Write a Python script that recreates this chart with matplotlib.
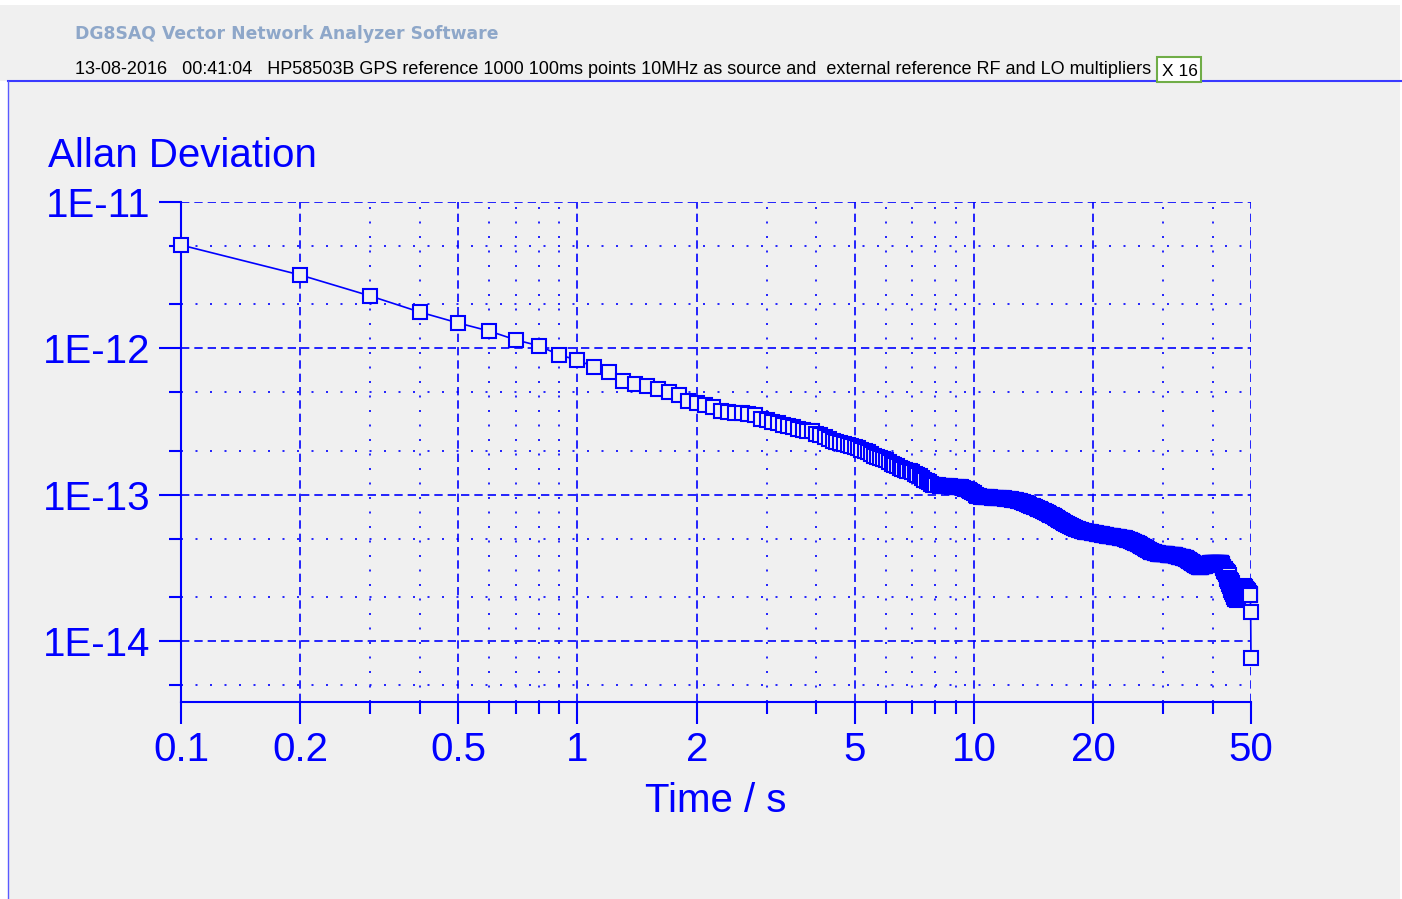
import numpy as np
import matplotlib
matplotlib.use("Agg")
import matplotlib.pyplot as plt
from matplotlib.ticker import FixedLocator, LogLocator, NullFormatter
from matplotlib.patches import Rectangle

plt.rcParams['font.family'] = ['Liberation Sans', 'DejaVu Sans']

W, H = 1402, 899
BLUE = '#0000ff'
PANEL = '#f0f0f0'

# 1000 points at 100 ms -> Allan deviation at tau = 0.1 s ... 50 s
tau = np.arange(1, 501) * 0.1

# Allan deviation, in units of 1e-13 (one row = 1 s of tau)
adev_1e13 = [
    50.8, 31.7, 22.8, 17.7, 14.9, 13.1, 11.4, 10.4, 9.0, 8.32,
    7.45, 6.89, 5.98, 5.70, 5.53, 5.27, 5.03, 4.80, 4.36, 4.23,
    4.10, 3.97, 3.75, 3.67, 3.61, 3.60, 3.56, 3.50, 3.30, 3.24,
    3.15, 3.09, 2.99, 2.93, 2.88, 2.82, 2.78, 2.74, 2.70, 2.60,
    2.54, 2.46, 2.38, 2.33, 2.28, 2.24, 2.21, 2.18, 2.15, 2.12,
    2.08, 2.03, 1.99, 1.94, 1.89, 1.84, 1.81, 1.78, 1.75, 1.72,
    1.68, 1.63, 1.59, 1.56, 1.53, 1.50, 1.48, 1.46, 1.44, 1.42,
    1.39, 1.37, 1.34, 1.30, 1.26, 1.23, 1.21, 1.19, 1.17, 1.16,
    1.16, 1.15, 1.15, 1.15, 1.14, 1.14, 1.14, 1.13, 1.13, 1.13,
    1.13, 1.12, 1.12, 1.11, 1.10, 1.09, 1.07, 1.05, 1.04, 1.02,
    1.00, 0.985, 0.972, 0.963, 0.960, 0.958, 0.957, 0.956, 0.955, 0.955,
    0.954, 0.953, 0.952, 0.950, 0.949, 0.947, 0.946, 0.944, 0.942, 0.940,
    0.937, 0.934, 0.930, 0.926, 0.922, 0.918, 0.914, 0.911, 0.907, 0.904,
    0.897, 0.890, 0.883, 0.876, 0.869, 0.862, 0.856, 0.849, 0.842, 0.836,
    0.829, 0.823, 0.816, 0.810, 0.803, 0.797, 0.791, 0.784, 0.778, 0.772,
    0.765, 0.758, 0.751, 0.744, 0.737, 0.730, 0.723, 0.716, 0.710, 0.703,
    0.696, 0.689, 0.682, 0.675, 0.669, 0.662, 0.655, 0.648, 0.642, 0.635,
    0.630, 0.625, 0.620, 0.615, 0.610, 0.606, 0.601, 0.596, 0.592, 0.587,
    0.584, 0.582, 0.579, 0.576, 0.574, 0.571, 0.568, 0.566, 0.563, 0.560,
    0.559, 0.558, 0.556, 0.555, 0.554, 0.552, 0.551, 0.549, 0.548, 0.546,
    0.545, 0.544, 0.543, 0.541, 0.540, 0.539, 0.538, 0.537, 0.535, 0.534,
    0.533, 0.531, 0.530, 0.529, 0.528, 0.526, 0.525, 0.524, 0.522, 0.521,
    0.520, 0.519, 0.518, 0.517, 0.516, 0.515, 0.514, 0.513, 0.512, 0.511,
    0.510, 0.509, 0.508, 0.507, 0.506, 0.505, 0.504, 0.503, 0.502, 0.501,
    0.499, 0.497, 0.495, 0.493, 0.491, 0.489, 0.488, 0.486, 0.484, 0.482,
    0.480, 0.477, 0.475, 0.473, 0.470, 0.468, 0.466, 0.464, 0.461, 0.459,
    0.456, 0.453, 0.451, 0.448, 0.445, 0.443, 0.440, 0.437, 0.435, 0.432,
    0.430, 0.427, 0.425, 0.422, 0.420, 0.418, 0.415, 0.413, 0.410, 0.408,
    0.407, 0.406, 0.405, 0.403, 0.402, 0.401, 0.400, 0.399, 0.397, 0.396,
    0.396, 0.395, 0.395, 0.394, 0.394, 0.394, 0.393, 0.393, 0.392, 0.392,
    0.392, 0.391, 0.391, 0.391, 0.390, 0.390, 0.390, 0.389, 0.389, 0.389,
    0.389, 0.388, 0.388, 0.388, 0.387, 0.387, 0.387, 0.386, 0.386, 0.386,
    0.385, 0.384, 0.383, 0.382, 0.381, 0.380, 0.379, 0.378, 0.377, 0.375,
    0.375, 0.374, 0.374, 0.373, 0.372, 0.372, 0.371, 0.370, 0.370, 0.369,
    0.367, 0.366, 0.364, 0.362, 0.360, 0.359, 0.357, 0.355, 0.354, 0.352,
    0.350, 0.348, 0.347, 0.345, 0.343, 0.342, 0.340, 0.338, 0.337, 0.335,
    0.333, 0.332, 0.330, 0.329, 0.327, 0.326, 0.324, 0.323, 0.321, 0.320,
    0.320, 0.321, 0.321, 0.322, 0.322, 0.323, 0.323, 0.324, 0.324, 0.325,
    0.326, 0.327, 0.328, 0.329, 0.330, 0.331, 0.332, 0.333, 0.334, 0.335,
    0.336, 0.336, 0.337, 0.337, 0.338, 0.339, 0.339, 0.340, 0.340, 0.341,
    0.341, 0.342, 0.341, 0.340, 0.341, 0.342, 0.341, 0.340, 0.341, 0.341,
    0.342, 0.341, 0.340, 0.341, 0.342, 0.341, 0.340, 0.341, 0.342, 0.341,
    0.340, 0.336, 0.330, 0.322, 0.315, 0.322, 0.310, 0.300, 0.312, 0.296,
    0.305, 0.285, 0.300, 0.275, 0.295, 0.265, 0.290, 0.255, 0.280, 0.245,
    0.270, 0.236, 0.262, 0.228, 0.255, 0.222, 0.248, 0.216, 0.240, 0.210,
    0.232, 0.204, 0.225, 0.198, 0.220, 0.194, 0.215, 0.192, 0.212, 0.190,
    0.210, 0.193, 0.212, 0.199, 0.215, 0.205, 0.218, 0.211, 0.222, 0.217,
    0.226, 0.222, 0.230, 0.226, 0.233, 0.229, 0.235, 0.231, 0.236, 0.230,
    0.235, 0.227, 0.232, 0.223, 0.228, 0.219, 0.225, 0.215, 0.222, 0.211,
    0.218, 0.208, 0.214, 0.206, 0.212, 0.206, 0.210, 0.205, 0.158, 0.0764,
]
adev = np.array(adev_1e13) * 1e-13

x_major = [0.1, 0.2, 0.5, 1, 2, 5, 10, 20, 50]
x_labels = ['0.1', '0.2', '0.5', '1', '2', '5', '10', '20', '50']
y_major = [1e-11, 1e-12, 1e-13, 1e-14]
y_labels = ['1E-11', '1E-12', '1E-13', '1E-14']

header_title = 'DG8SAQ Vector Network Analyzer Software'
header_info = ('13-08-2016   00:41:04   HP58503B GPS reference 1000 100ms points '
               '10MHz as source and  external reference RF and LO multipliers')
header_box = 'X 16'


def fx(x):
    return x / W


def fy(y):
    return 1 - y / H


fig = plt.figure(figsize=(W / 100, H / 100), dpi=100, facecolor='white')

# window background and frame lines
fig.add_artist(Rectangle((fx(0), fy(81)), fx(1400), 76 / H, transform=fig.transFigure,
                         facecolor=PANEL, edgecolor='none', zorder=0))
fig.add_artist(Rectangle((fx(8), fy(899)), fx(1392), 818 / H, transform=fig.transFigure,
                         facecolor=PANEL, edgecolor='none', zorder=0))
fig.add_artist(plt.Line2D([fx(8), fx(1402)], [fy(81), fy(81)], transform=fig.transFigure,
                          color='#3a3aff', lw=1.5, zorder=1))
fig.add_artist(plt.Line2D([fx(8), fx(8)], [fy(81), fy(899)], transform=fig.transFigure,
                          color='#5a5aff', lw=1.0, zorder=1))

# header
fig.text(fx(75), fy(39), header_title, color='#8ea7c9', fontsize=12.4, fontweight='bold',
         family=['DejaVu Sans'], va='baseline')
fig.text(fx(75), fy(74), header_info, color='black', fontsize=13, va='baseline')
fig.add_artist(Rectangle((fx(1157), fy(82)), 44 / W, 25 / H, transform=fig.transFigure,
                         facecolor='white', edgecolor='#70ad47', lw=1.5, zorder=2))
fig.text(fx(1162), fy(76), header_box, color='black', fontsize=12.5, va='baseline', zorder=3)

fig.text(fx(48), fy(167), 'Allan Deviation', color=BLUE, fontsize=29, va='baseline')

ax = fig.add_axes([fx(181), fy(702), 1070 / W, 500 / H])
ax.set_facecolor('none')
ax.set_xscale('log')
ax.set_yscale('log')

ax.plot(tau, adev, color=BLUE, lw=1.2, marker='s', ms=10.5, mew=1.5,
        mfc=PANEL, mec=BLUE, clip_on=False, zorder=3)

ax.set_xlim(0.1, 50)
ax.set_ylim(3.82e-15, 1e-11)

ax.xaxis.set_major_locator(FixedLocator(x_major))
ax.set_xticklabels(x_labels)
ax.xaxis.set_minor_locator(LogLocator(base=10, subs=(3, 4, 6, 7, 8, 9), numticks=50))
ax.xaxis.set_minor_formatter(NullFormatter())
ax.yaxis.set_major_locator(FixedLocator(y_major))
ax.set_yticklabels(y_labels)
ax.yaxis.set_minor_locator(LogLocator(base=10, subs=(2, 5), numticks=50))
ax.yaxis.set_minor_formatter(NullFormatter())

ax.grid(which='major', color=BLUE, lw=1.2, linestyle=(0, (5, 3)))
ax.grid(which='minor', color=BLUE, lw=1.2, linestyle=(0, (1.2, 7.5)))

ax.tick_params(which='major', direction='out', length=16, width=1.5, color=BLUE,
               labelcolor=BLUE, labelsize=29)
ax.tick_params(which='minor', direction='out', length=8.5, width=1.5, color=BLUE)
ax.tick_params(axis='y', which='major', pad=6)
ax.tick_params(axis='x', which='major', pad=5)

for side in ['top', 'right']:
    ax.spines[side].set_visible(False)
for side in ['left', 'bottom']:
    ax.spines[side].set_color(BLUE)
    ax.spines[side].set_linewidth(1.5)

ax.set_xlabel('Time / s', color=BLUE, fontsize=29, labelpad=9)

fig.savefig('out.png', dpi=100, facecolor=fig.get_facecolor())
